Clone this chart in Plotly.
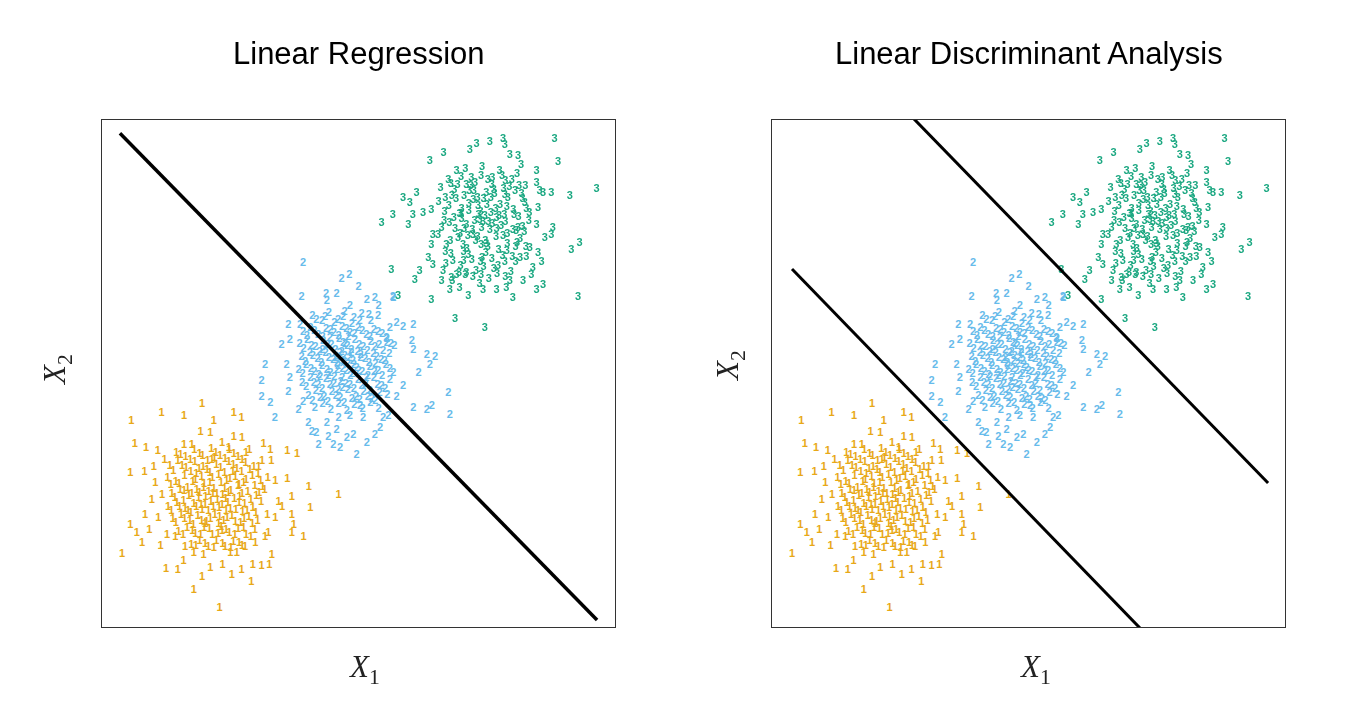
import plotly.graph_objects as go

# ---------------- data (units: 0-100 on both axes) ----------------
class1_xy = [
    # sparse outer points
    (19.5, 44.0), (11.6, 42.1), (16.0, 41.5), (5.7, 40.5), (21.8, 40.5), (25.7, 42.1), (27.2, 41.2),
    (19.2, 38.5), (21.1, 38.3), (25.7, 37.5), (27.3, 37.2), (6.4, 36.1), (8.6, 35.2), (10.9, 34.6),
    (31.5, 36.1), (32.8, 34.9), (36.1, 34.6), (38.0, 34.1), (5.5, 30.3), (8.3, 30.6), (10.1, 31.6),
    (12.2, 32.8), (33.8, 28.7), (36.1, 29.1), (40.3, 27.5), (37.0, 25.6), (46.1, 25.9), (40.6, 23.4),
    (37.0, 22.1), (37.4, 20.1), (39.3, 17.8), (37.0, 18.5), (5.5, 20.1), (6.8, 18.5), (7.8, 16.5),
    (9.2, 19.1), (8.4, 22.1), (3.9, 14.4), (11.4, 16.0), (12.5, 11.4), (14.8, 11.2), (15.9, 12.9),
    (17.9, 7.3), (19.5, 9.9), (21.1, 11.6), (22.9, 3.7), (23.5, 12.2), (25.3, 10.3), (27.2, 11.1),
    (29.1, 8.9), (29.4, 12.2), (31.1, 11.9), (32.6, 12.2), (33.1, 14.2), (31.8, 17.8), (32.4, 18.5),
    (33.8, 21.4), (35.1, 23.7), (34.4, 24.7), (32.2, 22.1), (25.0, 14.5), (26.3, 14.5), (27.9, 15.8),
    (29.9, 16.5), (17.9, 14.5), (19.8, 14.2), (16.2, 15.8), (14.3, 17.8), (12.7, 18.1), (11.0, 21.4),
    (9.7, 25.0), (10.4, 28.3), (11.7, 26.0), (33.0, 32.6), (30.5, 31.6), (28.7, 34.9), (23.4, 36.2),
    (24.7, 35.2), (16.0, 35.9), (17.5, 35.9),
    # dense core
    (14.5, 34.2), (16.3, 33.4), (18.0, 34.9), (19.6, 33.7), (21.3, 35.0), (23.0, 33.6), (24.8, 34.8),
    (26.5, 33.5), (28.1, 34.3),
    (13.2, 31.8), (14.8, 32.6), (16.4, 31.3), (18.1, 32.4), (19.7, 31.5), (21.4, 32.8), (23.1, 31.4),
    (24.7, 32.5), (26.3, 31.2), (28.0, 32.3), (29.6, 31.6), (31.2, 32.7),
    (12.8, 29.3), (14.4, 28.6), (16.1, 29.8), (17.7, 28.5), (19.4, 29.6), (21.0, 28.4), (22.7, 29.9),
    (24.3, 28.7), (26.0, 29.5), (27.6, 28.3), (29.3, 29.7), (30.9, 28.8), (32.3, 29.4),
    (13.6, 26.2), (15.2, 27.0), (16.9, 25.8), (18.5, 26.9), (20.2, 25.6), (21.8, 27.1), (23.5, 25.9),
    (25.1, 26.8), (26.8, 25.5), (28.4, 26.6), (30.1, 25.7), (31.7, 26.9),
    (12.9, 23.6), (14.6, 24.4), (16.2, 23.2), (17.9, 24.3), (19.5, 23.0), (21.2, 24.6), (22.8, 23.4),
    (24.5, 24.5), (26.1, 23.1), (27.8, 24.2), (29.4, 23.5), (31.0, 24.6),
    (13.8, 21.2), (15.4, 22.0), (17.1, 20.8), (18.7, 21.9), (20.4, 20.6), (22.0, 22.1), (23.7, 20.9),
    (25.3, 21.8), (27.0, 20.5), (28.6, 21.6), (30.3, 20.9),
    (14.9, 18.7), (16.6, 19.5), (18.2, 18.3), (19.9, 19.4), (21.5, 18.1), (23.2, 19.6), (24.8, 18.4),
    (26.5, 19.3), (28.1, 18.0), (29.8, 19.1),
    (17.4, 16.2), (19.0, 17.0), (20.7, 15.8), (22.3, 16.9), (24.0, 15.7), (25.6, 16.8), (27.3, 15.9),
    (19.8, 27.4), (21.6, 26.1), (23.9, 27.2), (20.7, 22.8), (22.5, 25.0), (18.8, 25.3), (24.2, 22.9),
    (21.0, 30.3), (25.5, 30.6), (17.3, 22.4), (26.7, 27.9), (20.1, 20.2), (23.4, 18.9), (18.4, 30.1),
    (22.9, 21.6), (16.0, 26.8), (27.4, 22.6), (21.9, 33.2), (19.3, 24.1), (24.6, 26.3),
    (15.3, 33.9), (17.2, 32.8), (19.0, 34.1), (20.6, 32.6), (22.2, 34.3), (24.0, 33.1), (25.7, 34.0),
    (27.3, 32.9),
    (13.9, 30.8), (15.6, 31.7), (17.3, 30.5), (18.9, 31.2), (20.5, 30.9), (22.3, 32.0), (23.9, 30.3),
    (25.6, 31.9), (27.2, 30.6), (28.8, 30.9), (30.4, 30.2),
    (13.4, 27.9), (15.0, 28.1), (16.7, 27.4), (18.2, 28.9), (19.9, 28.1), (21.5, 29.4), (23.2, 28.3),
    (24.9, 29.2), (26.5, 27.8), (28.1, 29.0), (29.8, 27.7), (31.3, 27.6),
    (14.2, 25.4), (15.9, 24.9), (17.5, 26.2), (19.0, 26.4), (20.8, 26.6), (22.4, 26.2), (24.1, 25.2),
    (25.8, 25.1), (27.3, 26.2), (29.0, 25.0), (30.6, 26.3),
    (13.5, 22.9), (15.1, 23.7), (16.8, 22.9), (18.4, 23.6), (20.1, 24.0), (21.7, 23.7), (23.4, 24.0),
    (25.0, 23.2), (26.7, 24.4), (28.3, 22.8), (30.0, 22.4),
    (14.4, 20.5), (16.1, 21.3), (17.8, 20.1), (19.4, 20.9), (21.1, 21.3), (22.7, 20.3), (24.4, 21.4),
    (26.0, 20.6), (27.7, 21.2), (29.3, 20.3),
    (15.8, 18.0), (17.6, 18.9), (19.2, 18.1), (20.9, 19.2), (22.6, 18.2), (24.2, 19.0), (25.9, 18.0),
    (27.6, 19.4), (29.0, 17.7),
    (18.3, 15.9), (20.1, 16.4), (21.8, 15.5), (23.5, 16.3), (25.1, 15.6), (26.7, 16.6),
]

class2_xy = [
    # sparse outer points
    (39.2, 71.7), (46.7, 68.6), (48.2, 69.3), (50.0, 67.1), (38.9, 65.0), (43.7, 65.6), (45.7, 65.6),
    (43.8, 64.2), (51.6, 64.5), (53.2, 64.8), (53.9, 63.2), (48.3, 63.2), (56.8, 64.8), (36.3, 59.6),
    (38.6, 59.6), (36.6, 56.6), (35.0, 55.6), (58.7, 59.2), (60.7, 59.6), (57.4, 59.9), (55.5, 55.9),
    (60.4, 56.3), (60.7, 54.6), (63.3, 53.6), (64.9, 53.3), (63.9, 51.7), (31.8, 51.7), (31.1, 48.5),
    (36.0, 51.7), (36.6, 49.0), (36.3, 46.4), (31.1, 45.4), (32.8, 44.1), (33.7, 41.2), (61.7, 50.0),
    (67.5, 46.1), (60.7, 43.1), (63.3, 42.8), (64.3, 43.5), (67.8, 41.8), (57.4, 45.4), (58.7, 47.4),
    (54.8, 41.2), (55.8, 41.5), (54.2, 39.2), (40.2, 40.2), (40.9, 38.5), (42.2, 35.9), (45.1, 35.9),
    (46.4, 35.2), (47.7, 37.2), (49.0, 37.9), (49.6, 33.9), (51.6, 36.2), (53.2, 37.9), (46.1, 41.2),
    (48.3, 41.5), (50.9, 41.2), (38.3, 42.8), (39.2, 44.4), (43.8, 40.2), (41.8, 38.2), (44.1, 37.5),
    (45.7, 38.9), (56.7, 65.1),
    # dense core
    (41.0, 61.2), (42.9, 60.3), (44.2, 61.8), (46.0, 60.6), (47.3, 62.0), (49.1, 60.9), (50.6, 61.7),
    (52.4, 60.4), (53.8, 61.3),
    (39.2, 58.1), (40.6, 59.0), (42.1, 57.6), (43.7, 58.8), (45.2, 57.9), (46.8, 59.2), (48.3, 58.0),
    (49.9, 58.9), (51.5, 57.5), (53.0, 58.6), (54.6, 57.8), (56.1, 58.9),
    (38.5, 55.7), (40.0, 56.6), (41.6, 55.2), (43.1, 56.3), (44.7, 55.5), (46.2, 56.8), (47.8, 55.4),
    (49.3, 56.5), (50.9, 55.1), (52.4, 56.2), (54.0, 55.6), (55.5, 56.7), (57.0, 55.3),
    (38.9, 53.2), (40.5, 54.0), (42.0, 52.9), (43.6, 53.9), (45.1, 52.7), (46.7, 54.2), (48.2, 53.0),
    (49.8, 54.1), (51.3, 52.8), (52.9, 53.8), (54.4, 52.6), (56.0, 53.7),
    (38.3, 50.6), (39.8, 51.6), (41.4, 50.3), (42.9, 51.4), (44.5, 50.1), (46.0, 51.5), (47.6, 50.4),
    (49.1, 51.7), (50.7, 50.2), (52.2, 51.3), (53.8, 50.5), (55.3, 51.6), (56.8, 50.0),
    (39.0, 48.1), (40.6, 49.0), (42.1, 47.7), (43.7, 48.8), (45.2, 47.9), (46.8, 49.1), (48.3, 47.6),
    (49.9, 48.7), (51.4, 47.8), (53.0, 49.0), (54.5, 47.5), (56.1, 48.6),
    (40.2, 45.6), (41.7, 46.5), (43.3, 45.3), (44.8, 46.4), (46.4, 45.1), (47.9, 46.6), (49.5, 45.4),
    (51.0, 46.3), (52.6, 45.0), (54.1, 46.2), (55.6, 45.7),
    (41.5, 43.2), (43.0, 44.0), (44.6, 42.8), (46.1, 43.9), (47.7, 42.6), (49.2, 43.8), (50.8, 42.9),
    (52.3, 44.1), (53.9, 43.0),
    (45.5, 53.1), (47.1, 52.5), (48.8, 49.9), (46.5, 48.2), (44.1, 49.5), (50.4, 53.6), (48.0, 57.2),
    (43.0, 54.6), (51.8, 49.4), (47.4, 55.8), (45.8, 50.6), (49.6, 51.1), (42.5, 49.2), (53.3, 51.9),
    (46.9, 47.0), (44.4, 57.0), (50.2, 44.8), (48.6, 54.6), (47.9, 51.8), (46.3, 53.9),
    (41.8, 60.5), (43.5, 61.0), (45.3, 60.0), (47.0, 61.1), (48.7, 59.7), (50.2, 60.3), (52.0, 61.5),
    (39.9, 57.4), (41.4, 58.3), (43.0, 57.1), (44.5, 58.5), (46.1, 57.3), (47.6, 58.8), (49.2, 57.7),
    (50.7, 58.4), (52.2, 57.2), (53.8, 58.1), (55.4, 57.0),
    (39.3, 54.8), (40.8, 55.3), (42.4, 54.2), (43.9, 55.6), (45.5, 54.5), (47.0, 55.9), (48.6, 54.0),
    (50.1, 55.6), (51.7, 54.3), (53.2, 55.2), (54.8, 54.4), (56.3, 55.8),
    (39.6, 52.3), (41.1, 53.4), (42.7, 52.0), (44.2, 53.1), (45.8, 52.0), (47.3, 53.5), (48.9, 52.4),
    (50.4, 53.0), (52.0, 52.1), (53.5, 53.2), (55.1, 52.4),
    (39.1, 49.8), (40.7, 50.9), (42.2, 49.6), (43.8, 50.7), (45.3, 49.2), (46.9, 50.8), (48.4, 49.5),
    (50.0, 50.4), (51.5, 49.1), (53.1, 50.3), (54.6, 49.4), (56.1, 50.8),
    (39.8, 47.3), (41.3, 48.1), (42.9, 46.9), (44.4, 47.6), (46.0, 46.6), (47.5, 47.9), (49.1, 46.8),
    (50.6, 47.5), (52.2, 46.5), (53.7, 47.7), (55.2, 46.9),
    (41.0, 44.6), (42.5, 45.1), (44.0, 44.3), (45.6, 45.5), (47.2, 44.2), (48.7, 45.0), (50.3, 43.6),
    (51.8, 45.3), (53.3, 44.5),
]

class3_xy = [
    # sparse outer points
    (88.2, 96.2), (78.2, 96.2), (78.5, 95.1), (75.6, 95.7), (73.0, 95.2), (71.7, 94.1), (66.6, 93.4),
    (63.9, 91.9), (88.9, 91.6), (96.4, 86.4), (91.2, 84.9), (87.6, 85.6), (86.0, 85.5), (84.7, 89.8),
    (84.7, 87.5), (54.5, 79.6), (56.7, 81.2), (58.7, 84.5), (61.3, 85.5), (56.4, 70.3), (61.0, 68.4),
    (61.9, 70.1), (64.2, 64.5), (93.1, 75.6), (91.5, 74.3), (92.8, 65.0), (68.8, 60.7), (74.6, 59.0),
    (57.7, 65.3), (84.7, 66.4), (86.0, 67.4), (80.1, 64.8), (76.9, 66.4), (74.3, 66.4), (73.6, 67.6),
    (71.4, 65.3), (69.7, 66.8), (67.8, 66.4), (82.1, 68.1), (83.7, 69.4), (87.9, 78.6), (87.6, 77.3),
    (86.3, 76.6), (84.7, 79.3), (85.0, 82.6), (85.3, 85.9), (81.1, 92.8), (81.7, 91.1), (79.5, 93.1),
    (60.0, 83.5), (59.7, 79.3), (60.6, 81.2), (62.6, 81.6), (64.2, 82.2), (64.5, 77.3), (64.2, 75.3),
    (63.6, 72.7), (64.5, 71.4), (82.7, 73.0), (83.4, 74.7), (85.0, 73.7), (85.7, 72.0), (84.0, 70.7),
    (79.5, 68.1), (78.8, 66.8), (66.5, 70.1), (66.2, 68.1), (68.1, 68.7), (69.1, 69.4), (71.0, 69.7),
    # dense core
    (67.5, 88.1), (69.1, 89.9), (70.8, 90.2), (72.0, 88.6), (74.1, 90.7), (75.2, 88.2), (77.5, 89.8),
    (78.6, 87.9), (80.9, 89.3), (81.3, 87.0),
    (66.0, 86.6), (68.2, 85.0), (69.3, 87.2), (71.6, 85.9), (72.7, 87.6), (74.9, 85.5), (76.0, 87.1),
    (78.3, 86.3), (79.4, 86.7), (81.8, 85.4), (82.5, 86.9),
    (65.6, 83.7), (66.8, 81.8), (69.0, 84.3), (70.1, 82.4), (72.4, 84.1), (73.3, 82.9), (75.8, 84.6),
    (76.7, 82.3), (79.1, 84.5), (80.2, 82.2), (82.4, 83.5), (83.3, 81.6),
    (66.7, 80.1), (67.7, 79.6), (70.0, 81.4), (71.0, 79.3), (73.4, 81.3), (74.3, 79.8), (76.9, 80.6),
    (77.8, 79.0), (80.3, 81.2), (81.1, 78.7), (83.2, 80.0),
    (65.5, 77.2), (67.9, 76.0), (68.8, 78.4), (71.3, 77.0), (72.2, 78.3), (74.7, 76.1), (75.6, 78.2),
    (78.2, 77.0), (79.0, 77.5), (81.5, 76.5), (82.3, 77.8),
    (66.9, 74.0), (68.0, 73.6), (70.4, 75.3), (71.4, 73.3), (73.9, 75.2), (74.8, 73.8), (77.3, 74.4),
    (78.1, 73.1), (80.6, 75.0), (81.5, 72.7),
    (67.0, 71.6), (69.6, 69.7), (70.5, 72.2), (72.9, 70.1), (73.8, 72.0), (76.4, 70.6), (77.2, 71.2),
    (79.7, 70.0), (80.6, 71.9),
    (68.3, 68.1), (72.3, 69.0), (75.4, 68.5), (78.6, 68.9),
    (70.1, 80.4), (72.3, 77.3), (74.0, 78.6), (75.8, 81.7), (73.2, 84.6), (76.9, 78.4), (71.5, 82.0),
    (74.9, 75.5), (77.6, 83.2), (72.8, 76.0), (75.3, 79.9), (73.6, 80.2), (69.8, 77.5), (78.4, 81.2),
    (71.0, 87.1), (76.5, 85.3), (74.1, 72.8), (79.0, 75.4), (70.5, 73.9), (80.7, 78.0),
    (68.0, 87.3), (70.0, 88.8), (71.9, 87.0), (73.9, 88.9), (76.1, 88.6), (78.0, 89.0), (79.9, 88.1),
    (66.9, 84.6), (68.7, 86.2), (70.6, 84.9), (72.5, 86.0), (74.4, 84.3), (76.4, 86.1), (78.5, 85.1),
    (80.5, 86.0), (82.0, 84.4),
    (67.6, 82.9), (69.7, 81.5), (71.5, 83.4), (73.8, 81.8), (75.0, 83.1), (77.4, 81.0), (78.9, 82.8),
    (81.2, 80.9), (82.7, 82.3),
    (66.2, 78.6), (68.6, 80.6), (70.6, 78.4), (72.6, 80.0), (74.6, 81.1), (76.1, 79.4), (78.6, 79.9),
    (80.1, 78.3), (82.0, 78.9),
    (67.1, 75.2), (69.4, 76.7), (71.1, 74.6), (73.2, 76.9), (75.2, 75.0), (76.8, 76.9), (78.9, 74.2),
    (80.9, 75.6), (82.6, 74.9),
    (68.4, 72.2), (69.9, 71.1), (72.1, 72.4), (74.4, 70.9), (76.0, 72.5), (78.5, 71.9), (80.0, 73.0),
    (70.8, 69.3), (73.9, 69.3), (77.0, 69.5),
]

class_labels = ["1", "2", "3"]
class_colors = ["#E69F00", "#56B4E9", "#009E73"]

# decision boundaries (end points in data units)
lr_line_x = [3.5, 96.5]
lr_line_y = [97.4, 1.4]
lda_line1_x = [3.9, 72.3]
lda_line1_y = [70.6, -0.8]
lda_line2_x = [27.3, 96.7]
lda_line2_y = [100.6, 28.4]

titles = ["Linear Regression", "Linear Discriminant Analysis"]

# ---------------- figure ----------------
W, H = 1366, 702
fig = go.Figure()

clusters = [class1_xy, class2_xy, class3_xy]
for ax in ["", "2"]:
    for pts, lab, col in zip(clusters, class_labels, class_colors):
        fig.add_trace(go.Scatter(
            x=[p[0] for p in pts], y=[p[1] for p in pts],
            mode="text", text=[lab] * len(pts), textposition="middle center",
            textfont=dict(family="Liberation Sans, Arial, sans-serif", size=11, color=col,
                          weight="bold"),
            opacity=0.9, hoverinfo="skip", showlegend=False,
            xaxis="x" + ax, yaxis="y" + ax, cliponaxis=False,
        ))

fig.add_trace(go.Scatter(x=lr_line_x, y=lr_line_y, mode="lines",
                         line=dict(color="black", width=3.5), showlegend=False,
                         xaxis="x", yaxis="y", hoverinfo="skip"))
fig.add_trace(go.Scatter(x=lda_line1_x, y=lda_line1_y, mode="lines",
                         line=dict(color="black", width=3), showlegend=False,
                         xaxis="x2", yaxis="y2", hoverinfo="skip"))
fig.add_trace(go.Scatter(x=lda_line2_x, y=lda_line2_y, mode="lines",
                         line=dict(color="black", width=3), showlegend=False,
                         xaxis="x2", yaxis="y2", hoverinfo="skip"))

def px_x(p):
    return p / W

def px_y(p):
    return 1 - p / H

axis_common = dict(range=[0, 100], showgrid=False, zeroline=False, showticklabels=False,
                   ticks="", showline=True, mirror=True, linecolor="#333333", linewidth=1.3,
                   fixedrange=True)

fig.update_layout(
    width=W, height=H,
    margin=dict(l=0, r=0, t=0, b=0),
    paper_bgcolor="white", plot_bgcolor="white",
    xaxis=dict(domain=[px_x(102), px_x(615)], anchor="y", **axis_common),
    yaxis=dict(domain=[px_y(627), px_y(120)], anchor="x", **axis_common),
    xaxis2=dict(domain=[px_x(772), px_x(1285)], anchor="y2", **axis_common),
    yaxis2=dict(domain=[px_y(627), px_y(120)], anchor="x2", **axis_common),
)

ann = []
title_font = dict(family="Liberation Sans, Arial, sans-serif", size=31, color="black")
for t, cx in zip(titles, [359.5, 1029]):
    ann.append(dict(text=t, x=px_x(cx), y=px_y(54), xref="paper", yref="paper",
                    xanchor="center", yanchor="middle", showarrow=False, font=title_font))

lab_font = dict(family="Liberation Serif, Times New Roman, serif", size=31, color="#222222")
for cx in [364, 1035]:
    ann.append(dict(text="<i>X</i><sub>1</sub>", x=px_x(cx), y=px_y(669), xref="paper", yref="paper",
                    xanchor="center", yanchor="middle", showarrow=False, font=lab_font))
for cx, cy in [(57, 370), (730, 366)]:
    ann.append(dict(text="<i>X</i><sub>2</sub>", x=px_x(cx), y=px_y(cy), xref="paper", yref="paper",
                    xanchor="center", yanchor="middle", showarrow=False, font=lab_font,
                    textangle=-90))
fig.update_layout(annotations=ann)

fig.write_html("out.html")
